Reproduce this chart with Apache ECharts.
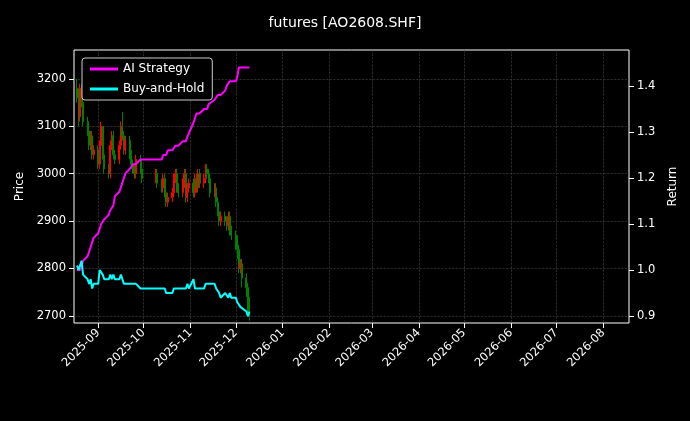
<!DOCTYPE html>
<html><head><meta charset="utf-8">
<script src="https://cdn.jsdelivr.net/npm/echarts@6/dist/echarts.min.js"></script>
<style>html,body{margin:0;background:#000}#c{width:690px;height:421px}</style></head>
<body><div id="c"></div>
<script>
const dates = ['2025-08-18','2025-08-19','2025-08-20','2025-08-21','2025-08-22','2025-08-25','2025-08-26','2025-08-27','2025-08-28','2025-08-29',
'2025-09-01','2025-09-02','2025-09-03','2025-09-04','2025-09-05','2025-09-08','2025-09-09','2025-09-10','2025-09-11','2025-09-12','2025-09-15','2025-09-16','2025-09-17','2025-09-18','2025-09-19','2025-09-22','2025-09-23','2025-09-24','2025-09-25','2025-09-26','2025-09-29','2025-09-30',
'2025-10-09','2025-10-10','2025-10-13','2025-10-14','2025-10-15','2025-10-16','2025-10-17','2025-10-20','2025-10-21','2025-10-22','2025-10-23','2025-10-24','2025-10-27','2025-10-28','2025-10-29','2025-10-30','2025-10-31',
'2025-11-03','2025-11-04','2025-11-05','2025-11-06','2025-11-07','2025-11-10','2025-11-11','2025-11-12','2025-11-13','2025-11-14','2025-11-17','2025-11-18','2025-11-19','2025-11-20','2025-11-21','2025-11-24','2025-11-25','2025-11-26','2025-11-27','2025-11-28',
'2025-12-01','2025-12-02','2025-12-03','2025-12-04','2025-12-05','2025-12-08','2025-12-09','2025-12-10'];
const opens = [3180,3160,3120,3180,3150,3110,3090,3060,3080,3040,
3050,3020,3060,3100,3040,3010,3000,3060,3080,3040,3030,3060,3100,3080,3050,3070,3040,3020,3010,3000,3030,3010,
2990,3000,2980,2970,2990,2960,2940,2950,2960,2990,3000,2970,2960,2980,3000,2950,2970,
2980,2960,2990,2970,3000,2980,2990,3010,3000,2990,2960,2970,2940,2920,2900,2910,2900,2890,2910,2880,
2870,2860,2840,2800,2810,2780,2760,2730];
const closes = [3160,3120,3180,3150,3110,3090,3060,3080,3040,3050,
3020,3060,3100,3040,3010,3000,3060,3080,3040,3030,3060,3100,3080,3050,3070,3040,3020,3010,3000,3030,3010,2990,
3000,2980,2970,2990,2960,2940,2950,2960,2990,3000,2970,2960,2980,3000,2950,2970,2980,
2960,2990,2970,3000,2980,2990,3010,3000,2990,2960,2970,2940,2920,2900,2910,2900,2890,2910,2880,2870,
2860,2840,2800,2810,2780,2760,2730,2710];
const lows = [3150,3100,3110,3140,3100,3080,3050,3050,3030,3030,
3010,3010,3050,3030,3000,2990,2990,3050,3030,3020,3020,3050,3070,3040,3040,3030,3010,3000,2990,2990,3000,2980,
2980,2970,2960,2960,2950,2930,2930,2940,2950,2980,2960,2950,2950,2970,2940,2940,2960,
2950,2950,2960,2960,2970,2970,2980,2990,2980,2950,2950,2930,2910,2890,2890,2890,2880,2880,2870,2860,
2840,2820,2790,2790,2760,2740,2700,2690];
const highs = [3200,3180,3190,3190,3160,3120,3100,3090,3090,3060,
3060,3070,3110,3100,3050,3020,3070,3090,3090,3050,3070,3110,3130,3090,3080,3080,3050,3030,3020,3040,3040,3020,
3010,3010,2990,3000,3000,2970,2960,2970,3000,3010,3010,2980,2990,3010,3010,2980,2990,
2990,3000,3000,3010,3010,3000,3020,3020,3010,3000,2980,2980,2950,2930,2920,2920,2910,2920,2920,2890,
2880,2870,2850,2820,2820,2790,2770,2740];
const strategy = [1.00,1.00,1.00,1.01,1.02,1.03,1.04,1.05,1.06,1.07,
1.08,1.09,1.10,1.10,1.11,1.12,1.13,1.13,1.14,1.16,1.17,1.18,1.19,1.20,1.21,1.22,1.22,1.23,1.23,1.23,1.24,1.24,
1.24,1.24,1.24,1.25,1.25,1.25,1.26,1.26,1.26,1.27,1.27,1.27,1.28,1.28,1.28,1.29,1.29,
1.32,1.33,1.34,1.34,1.34,1.35,1.35,1.35,1.36,1.36,1.37,1.37,1.38,1.38,1.38,1.39,1.40,1.40,1.41,1.41,
1.41,1.42,1.44,1.44,1.44,1.44,1.44,1.44];
const buyHold = [1.01,1.00,1.00,1.02,0.99,0.98,0.97,0.98,0.96,0.97,
0.97,1.00,1.00,0.99,0.98,0.98,0.99,0.98,0.99,0.98,0.98,0.99,0.98,0.97,0.97,0.97,0.97,0.97,0.97,0.97,0.96,0.96,
0.96,0.96,0.96,0.96,0.96,0.95,0.95,0.95,0.96,0.96,0.96,0.96,0.96,0.96,0.96,0.97,0.96,
0.98,0.96,0.96,0.96,0.96,0.96,0.97,0.97,0.97,0.97,0.97,0.96,0.96,0.95,0.94,0.95,0.95,0.94,0.95,0.94,
0.94,0.93,0.93,0.92,0.92,0.91,0.90,0.91];
const monthTicks = ['2025-09-01','2025-10-01','2025-11-01','2025-12-01','2026-01-01','2026-02-01','2026-03-01','2026-04-01','2026-05-01','2026-06-01','2026-07-01','2026-08-01'];
const priceTicks = [2700,2800,2900,3000,3100,3200];
const returnTicks = [0.9,1.0,1.1,1.2,1.3,1.4];

const ts = s => Date.UTC(+s.slice(0,4), +s.slice(5,7)-1, +s.slice(8,10));
const candle = dates.map((d,i)=>[ts(d), opens[i], closes[i], lows[i], highs[i]]);
const gridLine = {show:true, lineStyle:{color:'#444', type:'dashed', width:0.6}};
const chart = echarts.init(document.getElementById('c'));
chart.setOption({
  backgroundColor:'#000',
  animation:false,
  textStyle:{fontFamily:'DejaVu Sans'},
  title:{text:'futures [AO2608.SHF]', left:'center', top:11, textStyle:{color:'#fff', fontSize:14, fontWeight:'normal', fontFamily:'DejaVu Sans'}},
  grid:{left:74, right:61, top:50, bottom:98, show:true, borderColor:'#fff', borderWidth:1, backgroundColor:'transparent'},
  legend:{left:82, top:58, orient:'vertical', itemWidth:28, itemHeight:3, itemGap:8,
    backgroundColor:'#000', borderColor:'#ccc', borderWidth:1, borderRadius:3, padding:[5,8],
    textStyle:{color:'#fff', fontSize:12}, data:[{name:'AI Strategy', icon:'rect'},{name:'Buy-and-Hold', icon:'rect'}]},
  xAxis:{type:'value', min:ts('2025-08-16'), max:ts('2026-08-18'),
    axisLine:{show:false}, axisTick:{show:true, lineStyle:{color:'#fff'}, customValues:monthTicks.map(ts)},
    splitLine:gridLine,
    axisLabel:{color:'#fff', fontSize:11.5, rotate:45, customValues:monthTicks.map(ts),
      formatter:v=>{const d=new Date(v);return d.getUTCFullYear()+'-'+String(d.getUTCMonth()+1).padStart(2,'0');}}},
  yAxis:[
    {type:'value', min:2685, max:3261, name:'Price', nameLocation:'middle', nameGap:46, nameTextStyle:{color:'#fff', fontSize:12},
     axisLine:{show:false}, axisTick:{show:true, lineStyle:{color:'#fff'}, customValues:priceTicks},
     axisLabel:{color:'#fff', fontSize:11.5, customValues:priceTicks, formatter:v=>String(v)}, splitLine:gridLine},
    {type:'value', min:0.885, max:1.478, name:'Return', nameLocation:'middle', nameGap:38, nameTextStyle:{color:'#fff', fontSize:12},
     axisLine:{show:false}, axisTick:{show:true, lineStyle:{color:'#fff'}, customValues:returnTicks},
     axisLabel:{color:'#fff', fontSize:11.5, customValues:returnTicks, formatter:v=>v.toFixed(1)}, splitLine:{show:false}}
  ],
  series:[
    {type:'candlestick', name:'Price', data:candle, barWidth:1.5,
     itemStyle:{color:'#ff0000', color0:'#008000', borderColor:'#ff0000', borderColor0:'#008000', borderWidth:1}},
    {type:'line', name:'AI Strategy', yAxisIndex:1, data:dates.map((d,i)=>[ts(d), strategy[i]]), showSymbol:false, color:'#ff00ff', lineStyle:{width:2}},
    {type:'line', name:'Buy-and-Hold', yAxisIndex:1, data:dates.map((d,i)=>[ts(d), buyHold[i]]), showSymbol:false, color:'#00ffff', lineStyle:{width:2}}
  ]
});
</script></body></html>
